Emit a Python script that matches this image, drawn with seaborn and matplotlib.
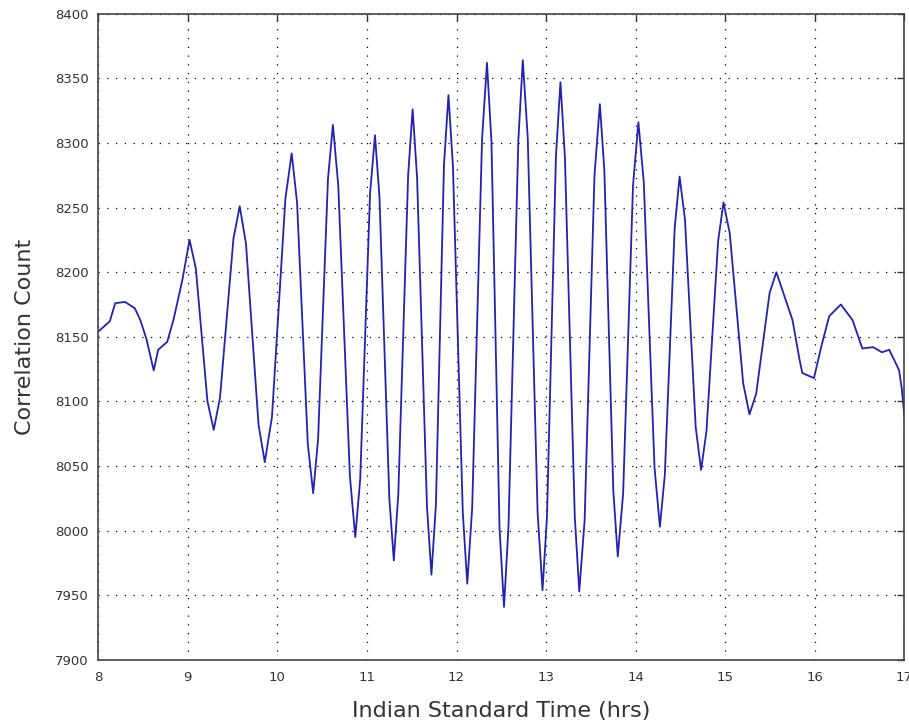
import numpy as np
import pandas as pd
import seaborn as sns
import matplotlib
matplotlib.use("Agg")
import matplotlib.pyplot as plt

# Values (time in hrs, correlation count)
time_hrs = [
    8.00, 8.13, 8.19, 8.30, 8.41, 8.47, 8.54, 8.62, 8.67, 8.77, 8.84, 8.94,
    9.02, 9.09, 9.22, 9.29, 9.36, 9.51, 9.58, 9.65, 9.79, 9.86, 9.94, 10.09,
    10.16, 10.22, 10.34, 10.40, 10.455, 10.565, 10.62, 10.68, 10.81, 10.87,
    10.925, 11.035, 11.09, 11.14, 11.25, 11.30, 11.35, 11.46, 11.51, 11.56,
    11.67, 11.72, 11.77, 11.86, 11.91, 11.96, 12.07, 12.12, 12.175, 12.285,
    12.34, 12.39, 12.48, 12.53, 12.58, 12.69, 12.74, 12.795, 12.905, 12.96,
    13.01, 13.11, 13.16, 13.21, 13.32, 13.37, 13.43, 13.54, 13.60, 13.65,
    13.75, 13.80, 13.86, 13.97, 14.03, 14.09, 14.21, 14.27, 14.325, 14.435,
    14.49, 14.55, 14.67, 14.73, 14.79, 14.92, 14.98, 15.05, 15.20, 15.27,
    15.345, 15.495, 15.57, 15.75, 15.83, 15.86, 15.99, 16.07, 16.16, 16.29,
    16.42, 16.53, 16.65, 16.75, 16.83, 16.90, 16.94, 16.97, 17.00, 17.02,
]
corr_count = [
    8154, 8162, 8176, 8177, 8172, 8163, 8148, 8124, 8140, 8146, 8163, 8194,
    8225, 8203, 8100, 8078, 8103, 8226, 8251, 8222, 8082, 8053, 8088, 8257,
    8292, 8254, 8067, 8029, 8071, 8272, 8314, 8267, 8042, 7995,
    8040, 8261, 8306, 8258, 8025, 7977, 8028, 8275, 8326, 8273,
    8019, 7966, 8020, 8283, 8337, 8282, 8014, 7959, 8018, 8303,
    8362, 8301, 8002, 7941, 8003, 8302, 8364, 8304, 8014, 7954,
    8011, 8290, 8347, 8289, 8011, 7953, 8008, 8275, 8330, 8279,
    8031, 7980, 8029, 8267, 8316, 8270, 8049, 8003, 8043, 8234,
    8274, 8241, 8080, 8047, 8077, 8224, 8254, 8230, 8114, 8090,
    8106, 8184, 8200, 8163, 8132, 8122, 8118, 8142, 8166, 8175,
    8163, 8141, 8142, 8138, 8140, 8130, 8124, 8110, 8088, 8105,
]
x_ticks = list(range(8, 18))
y_ticks = list(range(7900, 8401, 50))

df = pd.DataFrame({"t": time_hrs, "c": corr_count})

sns.set_style("white")
plt.rcParams["font.family"] = ["DejaVu Sans"]

fig = plt.figure(figsize=(9.09, 7.22), dpi=100)
ax = fig.add_axes([0.108, 0.086, 0.887, 0.895])

sns.lineplot(data=df, x="t", y="c", ax=ax, color="#2222b4", lw=1.3,
             sort=False, errorbar=None)

ax.set_xlim(8, 17)
ax.set_ylim(7900, 8400)
ax.set_xticks(x_ticks)
ax.set_yticks(y_ticks)
ax.grid(True, color="black", linestyle=(0, (1, 6)), linewidth=0.9)
ax.tick_params(direction="in", length=5, width=1, top=True, right=True,
               labelsize=9.5, labelcolor="#333333", colors="#333333")
ax.tick_params(axis="x", pad=8)
ax.tick_params(axis="y", pad=7)
for s in ax.spines.values():
    s.set_color("#444444")
    s.set_linewidth(1.2)

ax.set_xlabel("Indian Standard Time (hrs)", fontsize=16, color="#333333", labelpad=12)
ax.set_ylabel("Correlation Count", fontsize=16, color="#333333", labelpad=14)

fig.savefig("out.png", dpi=100)
